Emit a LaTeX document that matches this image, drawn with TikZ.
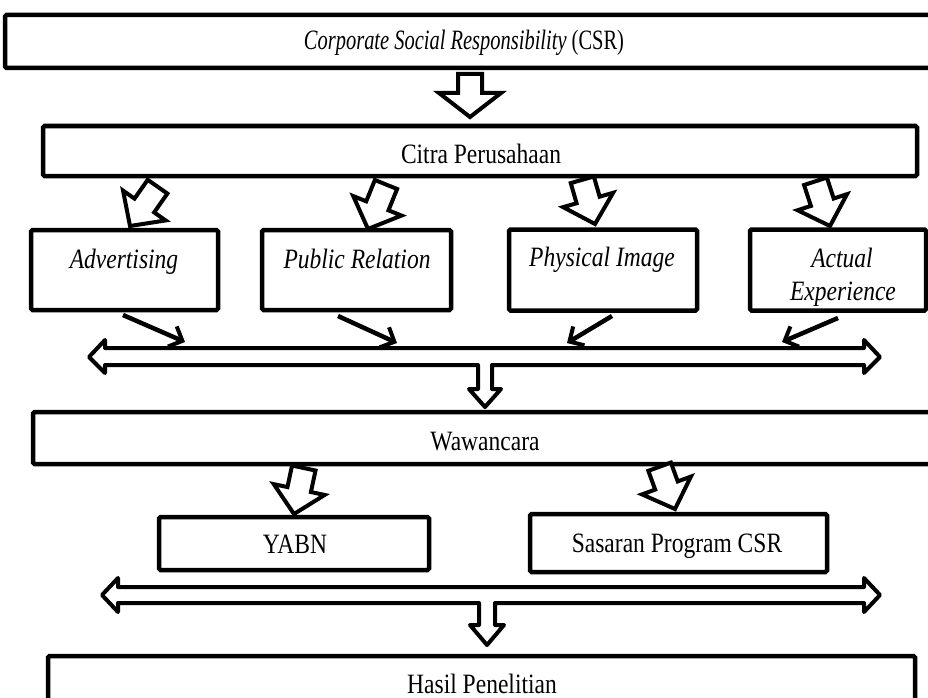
\documentclass[tikz,border=0pt]{standalone}
\usepackage{fontspec}
\usepackage{graphicx}
\setmainfont{Liberation Serif}[FakeStretch=0.84]
\usetikzlibrary{arrows.meta,calc}
\newcommand\myblockarrow[3]{%
  \begin{scope}[shift={#1},rotate=#2]
    \draw[blk] (0,0) -- (-26,-25) -- (-12,-25) -- (-12,-#3) -- (12,-#3) -- (12,-25) -- (26,-25) -- cycle;
  \end{scope}}
\begin{document}
\begin{tikzpicture}[x=1pt,y=-1pt,
  every node/.style={font=\fontsize{28}{33}\selectfont},
  box/.style={draw, line width=4.5pt, rounded corners=1.5pt, inner sep=0pt, fill=white},
  lbl/.style={anchor=base, inner sep=0pt},
  blk/.style={draw, line width=4pt, fill=white, line join=miter},
  hollow/.style={draw, line width=4pt, fill=white, line join=round},
  thin/.style={line width=4.5pt, -{Straight Barb[length=11pt,width=22pt,line width=4pt]}}]
\useasboundingbox (0,0) rectangle (928,698);
\clip (0,0) rectangle (928,698);

% boxes
\node[box, minimum width=935pt, minimum height=53pt] (csr) at (472.5,41.5) {};
\node[box, minimum width=874pt, minimum height=50pt] (citra) at (480,151) {};
\node[box, minimum width=187pt, minimum height=80pt] (adv) at (124.5,270) {};
\node[box, minimum width=189pt, minimum height=80pt] (pr) at (356.5,270) {};
\node[box, minimum width=188pt, minimum height=81pt] (pi) at (603,270) {};
\node[box, minimum width=176pt, minimum height=81pt] (ae) at (838,270) {};
\node[box, minimum width=907pt, minimum height=52pt] (waw) at (486.5,438) {};
\node[box, minimum width=270pt, minimum height=53pt] (yabn) at (294,543.5) {};
\node[box, minimum width=297pt, minimum height=58pt] (sas) at (678.5,543) {};
\node[box, minimum width=867pt, minimum height=64pt] (hasil) at (481.5,688) {};

% labels
\node[lbl] (csrT) at (464,50) {\scalebox{0.87}[1]{\textit{Corporate Social Responsibility} (CSR)}};
\node[lbl] (citraT) at (481,163) {Citra Perusahaan};
\node[lbl] (advT) at (124,268) {\textit{Advertising}};
\node[lbl] (prT) at (357,268) {\textit{Public Relation}};
\node[lbl] (piT) at (602,266) {\textit{Physical Image}};
\node[lbl] (aeT1) at (842,267) {\textit{Actual}};
\node[lbl] (aeT2) at (843,300) {\textit{Experience}};
\node[lbl] (wawT) at (485,450) {Wawancara};
\node[lbl] (yabnT) at (295,553) {YABN};
\node[lbl] (sasT) at (677,552) {Sasaran Program CSR};
\node[lbl] (hasilT) at (482,693) {Hasil Penelitian};

% top block arrow CSR -> Citra
\draw[blk] (458,74) -- (482,74) -- (482,93) -- (501,93) -- (470,117) -- (439,93) -- (458,93) -- cycle;

% tilted block arrows from Citra
\myblockarrow{(130,226)}{-35}{48}
\myblockarrow{(368,229)}{-22}{48}
\myblockarrow{(595,224)}{16}{46}
\myblockarrow{(830,226)}{18}{47}

% tilted block arrows from Wawancara
\myblockarrow{(294,514)}{-12}{47}
\myblockarrow{(675,509)}{20}{45}

% upper hollow double arrow with stem
\draw[hollow] (89,357) -- (105,340) -- (105,348) -- (864,348) -- (864,340) -- (880,357) -- (864,373) -- (864,365)
  -- (492,365) -- (492,389) -- (501,389) -- (485,407) -- (469,389) -- (478,389) -- (478,365)
  -- (105,365) -- (105,373) -- cycle;

% lower hollow double arrow with stem
\draw[hollow] (102,595) -- (118,578) -- (118,587) -- (864,587) -- (864,578) -- (880,595) -- (864,612) -- (864,603)
  -- (495,603) -- (495,625) -- (504,625) -- (487,645) -- (470,625) -- (479,625) -- (479,603)
  -- (118,603) -- (118,612) -- cycle;

% small arrows from boxes to bar
\coordinate (a1) at (123,315); \coordinate (b1) at (185,342);
\coordinate (a2) at (338,316); \coordinate (b2) at (397,343);
\coordinate (a3) at (612,316); \coordinate (b3) at (567,343);
\coordinate (a4) at (838,318); \coordinate (b4) at (782,342);
\draw[thin] (a1) -- (b1);
\draw[thin] (a2) -- (b2);
\draw[thin] (a3) -- (b3);
\draw[thin] (a4) -- (b4);
\end{tikzpicture}
\end{document}
